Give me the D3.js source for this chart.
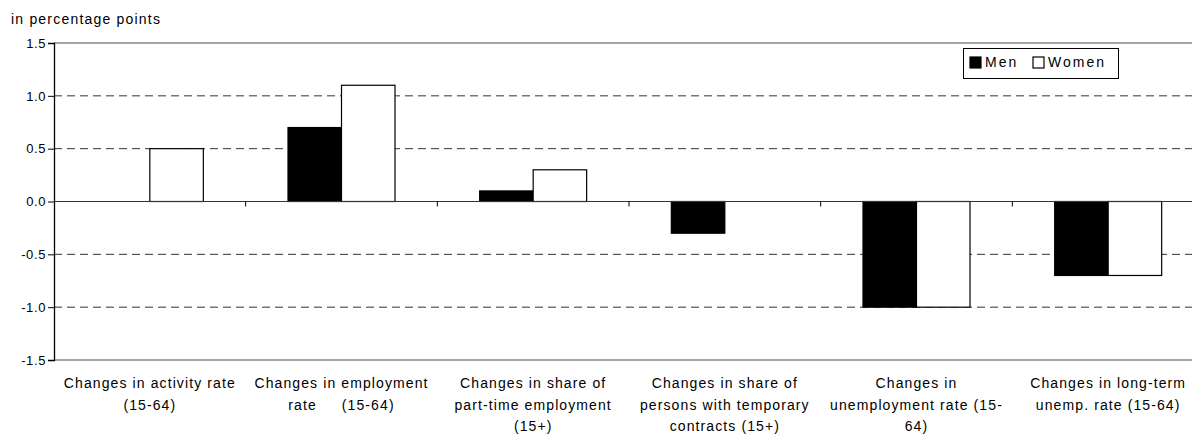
<!DOCTYPE html>
<html><head><meta charset="utf-8">
<script src="https://cdn.jsdelivr.net/npm/d3@7"></script>
<style>
body{margin:0;background:#fff;}
svg{display:block;font-family:"Liberation Sans",Arial,sans-serif;}
</style></head>
<body><svg id="c" width="1192" height="435"></svg>
<script>
const categories = [
  ["Changes in activity rate","(15-64)"],
  ["Changes in employment","rate     (15-64)"],
  ["Changes in share of","part-time employment","(15+)"],
  ["Changes in share of","persons with temporary","contracts (15+)"],
  ["Changes in","unemployment rate (15-","64)"],
  ["Changes in long-term","unemp. rate (15-64)"]
];
const seriesNames = ["Men","Women"];
const menValues = [0, 0.7, 0.1, -0.3, -1.0, -0.7];
const womenValues = [0.5, 1.1, 0.3, 0, -1.0, -0.7];
const yTicks = [-1.5, -1.0, -0.5, 0.0, 0.5, 1.0, 1.5];
const yTitle = "in percentage points";

const svg = d3.select("#c");
const L = 54, R = 1204, T = 43, B = 360;
const idx = d3.range(categories.length);
const x = d3.scaleBand().domain(idx).range([L, R]).paddingInner(0).paddingOuter(0);
const y = d3.scaleLinear().domain([-1.5, 1.5]).range([B, T]);
const colors = {Men:"#000", Women:"#fff"};
const bw = 53.5;

const g = svg.append("g");
g.selectAll("line.grid").data(yTicks.filter(v => v !== 0 && Math.abs(v) !== 1.5)).enter()
  .append("line").attr("x1", L).attr("x2", R).attr("y1", d => y(d)).attr("y2", d => y(d))
  .attr("stroke", "#333").attr("stroke-width", 1).attr("stroke-dasharray", "8,5");
[1.5, -1.5].forEach(v => g.append("line").attr("x1", L).attr("x2", R).attr("y1", y(v)).attr("y2", y(v))
  .attr("stroke", "#888").attr("stroke-width", 1.3));

const data = [];
idx.forEach(i => {
  data.push({i, s:"Men", v:menValues[i]});
  data.push({i, s:"Women", v:womenValues[i]});
});
g.selectAll("rect.bar").data(data.filter(d => d.v !== 0)).enter().append("rect")
  .attr("x", d => x(d.i) + x.bandwidth()/2 + (d.s === "Men" ? -bw : 0))
  .attr("width", bw)
  .attr("y", d => y(Math.max(0, d.v)))
  .attr("height", d => Math.abs(y(d.v) - y(0)))
  .attr("fill", d => colors[d.s]).attr("stroke", "#000").attr("stroke-width", 1.2);

g.append("line").attr("x1", L).attr("x2", R).attr("y1", y(0)).attr("y2", y(0))
  .attr("stroke", "#333").attr("stroke-width", 1.2);
g.selectAll("line.ct").data(idx.slice(1)).enter().append("line")
  .attr("x1", d => x(d)).attr("x2", d => x(d)).attr("y1", y(0)).attr("y2", y(0) + 5)
  .attr("stroke", "#000");

const fmt = d => d3.format(".1f")(d).replace("\u2212", "-");
const yAxis = d3.axisLeft(y).tickValues(yTicks).tickSize(6).tickFormat(fmt);
const ya = svg.append("g").attr("transform", `translate(${L},0)`).call(yAxis);
ya.select(".domain").attr("stroke", "#000").attr("stroke-width", 1.3);
ya.selectAll(".tick line").attr("stroke", "#000");
ya.selectAll(".tick text").attr("font-size", 13).attr("fill", "#000").attr("x", -8)
  .attr("font-family", "Liberation Sans, Arial, sans-serif").attr("letter-spacing", "0.6");

svg.append("text").attr("x", 11).attr("y", 24).attr("font-size", 14).attr("letter-spacing", "1.2")
  .attr("fill", "#000").text(yTitle);

idx.forEach(i => {
  const t = svg.append("text").attr("text-anchor", "middle").attr("font-size", 14)
    .attr("letter-spacing", "1.1").attr("fill", "#000");
  categories[i].forEach((line, k) => {
    t.append("tspan").attr("x", x(i) + x.bandwidth()/2).attr("y", 388 + k * 21.5)
      .attr("xml:space", "preserve").style("white-space", "pre").text(line);
  });
});

const lg = svg.append("g");
lg.append("rect").attr("x", 963.5).attr("y", 48.5).attr("width", 155).attr("height", 30)
  .attr("fill", "#fff").attr("stroke", "#000").attr("stroke-width", 1);
const lx = [970, 1033];
seriesNames.forEach((s, k) => {
  lg.append("rect").attr("x", lx[k]).attr("y", 57).attr("width", 11).attr("height", 11)
    .attr("fill", colors[s]).attr("stroke", "#000").attr("stroke-width", 1.2);
  lg.append("text").attr("x", lx[k] + 15).attr("y", 67).attr("font-size", 14)
    .attr("letter-spacing", "2").attr("fill", "#000").text(s);
});
</script></body></html>
